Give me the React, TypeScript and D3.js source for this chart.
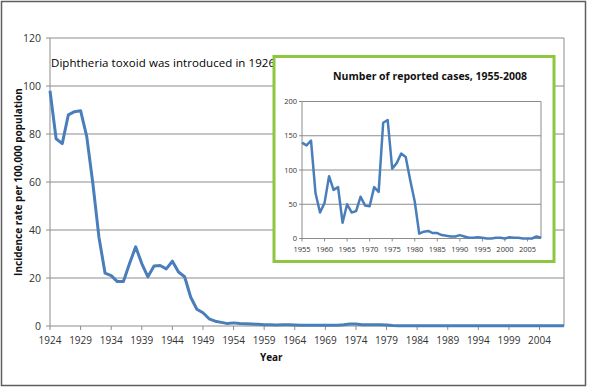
import React from "react";
import * as d3 from "d3";

// incidence rate per 100,000, 1924-2008
const years = d3.range(1924, 2009);
const rates = [
  98, 78, 76, 88, 89.3, 89.7, 79, 59.5, 37, 22, 21, 18.5, 18.5, 26, 33, 26, 20.5, 25, 25.2, 23.8,
  27, 22.5, 20.5, 12, 7, 5.5, 3, 2, 1.5, 1, 1.3, 1.0, 0.9, 0.8, 0.7, 0.5, 0.5, 0.4, 0.5, 0.5,
  0.4, 0.3, 0.3, 0.3, 0.3, 0.3, 0.3, 0.3, 0.5, 0.8, 0.8, 0.5, 0.5, 0.5, 0.5, 0.4, 0.2, 0.1, 0.1, 0.1,
  0.1, 0.1, 0.1, 0.1, 0.1, 0.1, 0.1, 0.1, 0.1, 0.1, 0.1, 0.1, 0.1, 0.1, 0.1, 0.1, 0.1, 0.1, 0.1, 0.1,
  0.1, 0.1, 0.1, 0.1, 0.1,
];
const yTicks = [0, 20, 40, 60, 80, 100, 120];
const xTickYears = d3.range(1924, 2005, 5);

// inset: number of reported cases, 1955-2008
const insetYears = d3.range(1955, 2009);
const insetCases = [
  140, 136, 143, 66, 38, 52, 91, 71, 75, 23, 50, 38, 40, 61, 48, 47, 75, 68, 169, 173,
  102, 110, 124, 119, 85, 54, 7, 10, 11, 8, 8, 5, 4, 3, 3, 5, 3, 1, 1, 2,
  1, 0, 0, 1, 1, 0, 2, 1, 1, 0, 0, 0, 3, 1,
];
const insetYTicks = [0, 50, 100, 150, 200];
const insetXTickYears = d3.range(1955, 2006, 5);

const annotation = "Diphtheria toxoid was introduced in 1926";
const insetTitle = "Number of reported cases, 1955-2008";

const FONT = "'Open Sans', 'Liberation Sans', sans-serif";
const LINE = "#4A7EBB";
const GRID = "#8c8c8c";

export default function App() {
  const x = d3.scaleLinear().domain([1924, 2008]).range([50, 564]);
  const y = d3.scaleLinear().domain([0, 120]).range([326, 38]);
  const line = d3
    .line<number>()
    .x((_, i) => x(years[i]))
    .y((d) => y(d));

  const ix = d3.scaleLinear().domain([1955, 2008]).range([302, 541]);
  const iy = d3.scaleLinear().domain([0, 200]).range([238.5, 101.5]);
  const insetLine = d3
    .line<number>()
    .x((_, i) => ix(insetYears[i]))
    .y((d) => iy(d));

  return (
    <svg width={590} height={391} style={{ display: "block", position: "absolute", left: 0, top: 0 }}>
      <rect x={0} y={0} width={590} height={391} fill="#fff" />
      <rect x={1.5} y={1.5} width={584} height={384} fill="none" stroke="#5f5f5f" strokeWidth={1.5} />

      {/* main grid + axes */}
      {yTicks.map((t) => (
        <g key={t}>
          <line x1={x(1924)} x2={x(2008)} y1={y(t)} y2={y(t)} stroke={GRID} strokeWidth={1} />
          <line x1={x(1924) - 4} x2={x(1924)} y1={y(t)} y2={y(t)} stroke={GRID} />
          <text x={41} y={y(t)} dy="0.35em" textAnchor="end" fontFamily={FONT} fontSize={10.5} fill="#333">
            {t}
          </text>
        </g>
      ))}
      <line x1={x(1924)} x2={x(1924)} y1={y(120)} y2={y(0)} stroke={GRID} />
      <line x1={x(2008)} x2={x(2008)} y1={y(120)} y2={y(0)} stroke={GRID} />
      {xTickYears.map((yr) => (
        <g key={yr}>
          <line x1={x(yr)} x2={x(yr)} y1={y(0)} y2={y(0) + 4} stroke={GRID} />
          <text x={x(yr)} y={344} textAnchor="middle" fontFamily={FONT} fontSize={10} fill="#333">
            {yr}
          </text>
        </g>
      ))}
      <text x={x(1960) + 1} y={361} textAnchor="middle" fontFamily={FONT} fontSize={10} fontWeight="bold" fill="#111">
        Year
      </text>
      <text
        transform={`translate(18,${(y(0) + y(120)) / 2}) rotate(-90)`}
        textAnchor="middle"
        dy="0.35em"
        fontFamily={FONT}
        fontSize={10}
        fontWeight="bold"
        fill="#111"
      >
        Incidence rate per 100,000 population
      </text>

      <path d={line(rates) ?? ""} fill="none" stroke={LINE} strokeWidth={3} strokeLinejoin="round" />

      <text x={x(1924) + 1} y={y(108)} fontFamily={FONT} fontSize={11.5} fill="#000" textLength={224} lengthAdjust="spacing">
        {annotation}
      </text>

      {/* inset */}
      <rect x={274} y={56.5} width={280} height={205} fill="#fff" stroke="#8DC63F" strokeWidth={3} />
      <text x={430} y={80} textAnchor="middle" fontFamily={FONT} fontSize={10.5} fontWeight="bold" fill="#111">
        {insetTitle}
      </text>
      {insetYTicks.map((t) => (
        <g key={t}>
          <line x1={ix(1955)} x2={ix(2008)} y1={iy(t)} y2={iy(t)} stroke={GRID} />
          <line x1={ix(1955) - 3} x2={ix(1955)} y1={iy(t)} y2={iy(t)} stroke={GRID} />
          <text x={297} y={iy(t)} dy="0.35em" textAnchor="end" fontFamily={FONT} fontSize={7.5} fill="#333">
            {t}
          </text>
        </g>
      ))}
      <line x1={ix(1955)} x2={ix(1955)} y1={iy(200)} y2={iy(0)} stroke={GRID} />
      <line x1={ix(2008)} x2={ix(2008)} y1={iy(200)} y2={iy(0)} stroke={GRID} />
      {insetXTickYears.map((yr) => (
        <g key={yr}>
          <line x1={ix(yr)} x2={ix(yr)} y1={iy(0)} y2={iy(0) + 3} stroke={GRID} />
          <text x={ix(yr)} y={252} textAnchor="middle" fontFamily={FONT} fontSize={7.5} fill="#333">
            {yr}
          </text>
        </g>
      ))}
      <path d={insetLine(insetCases) ?? ""} fill="none" stroke={LINE} strokeWidth={2.5} strokeLinejoin="round" />
    </svg>
  );
}
